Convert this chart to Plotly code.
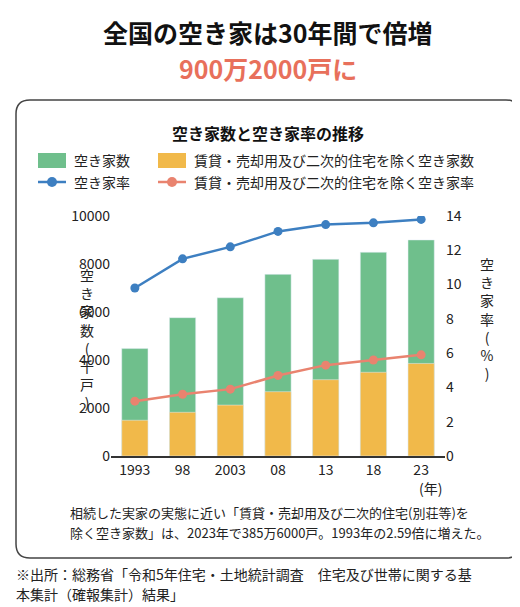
import plotly.graph_objects as go

years = ["1993", "98", "2003", "08", "13", "18", "23"]
akiya = [4476, 5764, 6593, 7568, 8196, 8489, 9002]
akiya_ex = [1490, 1820, 2120, 2680, 3180, 3487, 3856]
rate = [9.8, 11.5, 12.2, 13.1, 13.5, 13.6, 13.8]
rate_ex = [3.2, 3.6, 3.9, 4.7, 5.3, 5.6, 5.9]

GREEN = "#6fbf8c"
YELLOW = "#f1b94a"
BLUE = "#3d7fc1"
SALMON = "#e9836f"
FONT = "Noto Sans CJK JP"

fig = go.Figure()
fig.add_bar(x=years, y=akiya, marker_color=GREEN, width=0.55, showlegend=False)
fig.add_bar(x=years, y=akiya_ex, marker_color=YELLOW, width=0.55, showlegend=False)
fig.add_scatter(x=years, y=rate, yaxis="y2", mode="lines+markers",
                line=dict(color=BLUE, width=2.5), marker=dict(size=9, color=BLUE),
                showlegend=False)
fig.add_scatter(x=years, y=rate_ex, yaxis="y2", mode="lines+markers",
                line=dict(color=SALMON, width=2.5), marker=dict(size=9, color=SALMON),
                showlegend=False)

W, H = 520, 607
L, R, T, B = 103, 83, 208, 159
PW, PH = W - L - R, H - T - B
# page pixels -> paper coords (paper is the plot area)
def px(x): return (x - L) / PW
def py(y): return (H - B - y) / PH

shapes = [dict(type="path", xref="paper", yref="paper",
               path="M %f,%f L %f,%f Q %f,%f %f,%f L %f,%f Q %f,%f %f,%f L %f,%f Q %f,%f %f,%f L %f,%f Q %f,%f %f,%f Z" % (
                   px(22), py(92), px(498), py(92), px(512), py(92), px(512), py(106),
                   px(512), py(536), px(512), py(550), px(498), py(550),
                   px(22), py(550), px(8), py(550), px(8), py(536),
                   px(8), py(106), px(8), py(92), px(22), py(92)),
               line=dict(color="#444", width=1.5))]
ann = []
def txt(x, y, s, size=14, color="#222", anchor="left", bold=False):
    ann.append(dict(x=px(x), y=py(y), xref="paper", yref="paper", text=("<b>%s</b>" % s) if bold else s,
                    showarrow=False, xanchor=anchor, yanchor="middle",
                    font=dict(family=FONT, size=size, color=color)))

txt(260, 24, "全国の空き家は30年間で倍増", 25, "#111", "center", True)
txt(260, 60, "900万2000戸に", 25, "#e8705b", "center", True)
txt(260, 125, "空き家数と空き家率の推移", 16, "#111", "center", True)

# legend
shapes.append(dict(type="rect", xref="paper", yref="paper", x0=px(30), x1=px(58),
                   y0=py(160), y1=py(145), fillcolor=GREEN, line_width=0))
txt(64, 152, "空き家数", 14)
shapes.append(dict(type="rect", xref="paper", yref="paper", x0=px(150), x1=px(178),
                   y0=py(160), y1=py(145), fillcolor=YELLOW, line_width=0))
txt(184, 152, "賃貸・売却用及び二次的住宅を除く空き家数", 14)
for x0, c, label in [(30, BLUE, "空き家率"), (150, SALMON, "賃貸・売却用及び二次的住宅を除く空き家率")]:
    shapes.append(dict(type="line", xref="paper", yref="paper", x0=px(x0), x1=px(x0 + 28),
                       y0=py(174), y1=py(174), line=dict(color=c, width=2.5)))
    shapes.append(dict(type="circle", xref="paper", yref="paper", x0=px(x0 + 9), x1=px(x0 + 19),
                       y0=py(179), y1=py(169), fillcolor=c, line_width=0))
    txt(x0 + 34, 174, label, 14)

ann.append(dict(x=px(70), y=py(330), xref="paper", yref="paper", showarrow=False,
                text="<br>".join(list("空き家数")) + "<br>(<br>千<br>戸<br>)",
                font=dict(family=FONT, size=14, color="#222")))
ann.append(dict(x=px(488), y=py(310), xref="paper", yref="paper", showarrow=False,
                text="<br>".join(list("空き家率")) + "<br>(<br>%<br>)",
                font=dict(family=FONT, size=14, color="#222")))
txt(422, 480, "(年)", 14, "#222", "center")
txt(60, 504, "相続した実家の実態に近い「賃貸・売却用及び二次的住宅(別荘等)を", 13)
txt(60, 524, "除く空き家数」は、2023年で385万6000戸。1993年の2.59倍に増えた。", 13)
txt(6, 566, "※出所：総務省「令和5年住宅・土地統計調査　住宅及び世帯に関する基", 14)
txt(6, 586, "本集計（確報集計）結果」", 14)

fig.update_layout(
    width=W, height=H, margin=dict(l=L, r=R, t=T, b=B),
    paper_bgcolor="white", plot_bgcolor="white", barmode="overlay",
    font=dict(family=FONT, size=14, color="#222"),
    xaxis=dict(showline=True, linecolor="#333", linewidth=1.5, ticks="", tickfont=dict(size=14)),
    yaxis=dict(range=[0, 10000], dtick=2000, tickformat="d", showgrid=False, zeroline=False,
               ticks="", tickfont=dict(size=14)),
    yaxis2=dict(range=[0, 14], dtick=2, overlaying="y", side="right", showgrid=False,
                zeroline=False, ticks="", tickfont=dict(size=14)),
    shapes=shapes, annotations=ann,
)
fig.write_html("out.html")
